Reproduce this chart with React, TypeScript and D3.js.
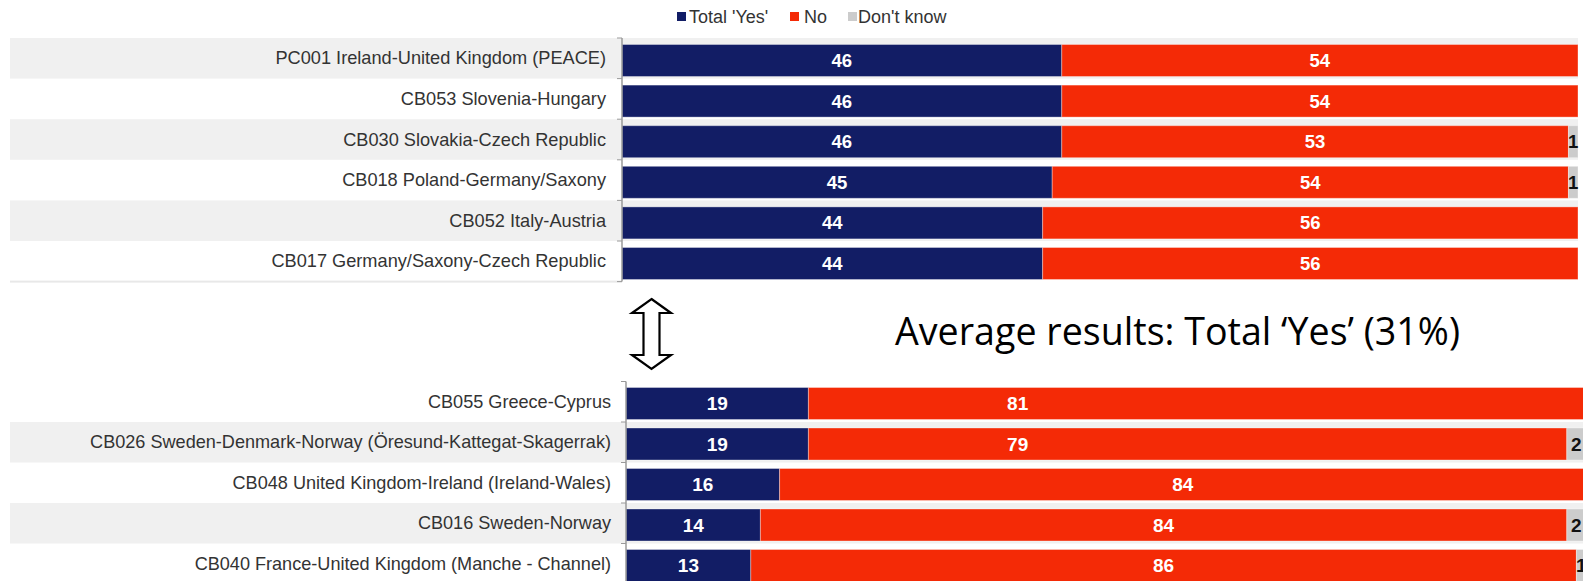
import React from "react";
import * as d3 from "d3";

// upper panel: programmes with the highest share of "Total 'Yes'"
const topRegions = [
  "PC001 Ireland-United Kingdom (PEACE)",
  "CB053 Slovenia-Hungary",
  "CB030 Slovakia-Czech Republic",
  "CB018 Poland-Germany/Saxony",
  "CB052 Italy-Austria",
  "CB017 Germany/Saxony-Czech Republic",
];
const topYes = [46, 46, 46, 45, 44, 44];
const topNo = [54, 54, 53, 54, 56, 56];
const topDontKnow = [0, 0, 1, 1, 0, 0];

// lower panel: programmes with the lowest share
const bottomRegions = [
  "CB055 Greece-Cyprus",
  "CB026 Sweden-Denmark-Norway (Öresund-Kattegat-Skagerrak)",
  "CB048 United Kingdom-Ireland (Ireland-Wales)",
  "CB016 Sweden-Norway",
  "CB040 France-United Kingdom (Manche - Channel)",
];
const bottomYes = [19, 19, 16, 14, 13];
const bottomNo = [81, 79, 84, 84, 86];
const bottomDontKnow = [0, 2, 0, 2, 1];
// in the source the "No" figure of the first two rows is not centred (percent along the bar)
const bottomNoLabelAt = [40.8, 40.8, null, null, null];

const legendLabels = ["Total 'Yes'", "No", "Don't know"];
const colors = ["#121d65", "#f42a06", "#cccccc"];
const averageNote = "Average results: Total \u2018Yes\u2019 (31%)";

const font = "'Liberation Sans', Arial, sans-serif";

type PanelProps = {
  regions: string[];
  yes: number[];
  no: number[];
  dk: number[];
  noLabelAt?: (number | null)[];
  x0: number;
  x100: number;
  top: number;
  step: number;
  barOffset: number;
  shadeOdd: boolean;
  bgRight: number;
  labelRight: number;
  labelSize: number;
  valueSize: number;
  bottomLine?: boolean;
};

const Panel = (p: PanelProps) => {
  const x = d3.scaleLinear().domain([0, 100]).range([p.x0, p.x100]);
  const y = d3
    .scaleBand()
    .domain(p.regions)
    .range([p.top, p.top + p.step * p.regions.length]);
  const barH = 32;

  return (
    <g>
      {p.regions.map((r, i) => {
        const shaded = p.shadeOdd ? i % 2 === 0 : i % 2 === 1;
        return shaded ? (
          <rect key={"bg" + i} x={10} y={y(r)} width={p.bgRight - 10} height={y.bandwidth()} fill="#f0f0f0" />
        ) : null;
      })}
      {p.bottomLine && (
        <rect x={10} y={p.top + p.step * p.regions.length - 1} width={p.x0 - 10} height={2} fill="#e8e8e8" />
      )}
      {p.regions.map((r, i) => {
        const by = (y(r) as number) + p.barOffset;
        const segs = [
          { v: p.yes[i], start: 0, c: colors[0], t: "#fff" },
          { v: p.no[i], start: p.yes[i], c: colors[1], t: "#fff" },
          { v: p.dk[i], start: p.yes[i] + p.no[i], c: colors[2], t: "#111" },
        ];
        return (
          <g key={r}>
            <text
              x={p.labelRight}
              y={(y(r) as number) + y.bandwidth() / 2}
              textAnchor="end"
              dominantBaseline="central"
              fontSize={p.labelSize}
              fill="#333"
              fontFamily={font}
            >
              {r}
            </text>
            {segs.map((s, k) =>
              s.v > 0 ? (
                <rect
                  key={k}
                  x={x(s.start)}
                  y={by}
                  width={x(s.start + s.v) - x(s.start)}
                  height={barH}
                  fill={s.c}
                  stroke="#fff"
                  strokeOpacity={0.35}
                  strokeWidth={1}
                />
              ) : null
            )}
            {segs.map((s, k) => {
              if (s.v <= 0) return null;
              let cx = x(s.start + s.v / 2);
              if (k === 1 && p.noLabelAt && p.noLabelAt[i] != null) cx = x(p.noLabelAt[i] as number);
              return (
                <text
                  key={"t" + k}
                  x={cx}
                  y={by + barH / 2}
                  textAnchor="middle"
                  dominantBaseline="central"
                  fontSize={p.valueSize}
                  fontWeight="bold"
                  fill={s.t}
                  fontFamily={font}
                >
                  {s.v}
                </text>
              );
            })}
          </g>
        );
      })}
      {/* category axis */}
      <line x1={p.x0} x2={p.x0} y1={p.top} y2={p.top + p.step * p.regions.length} stroke="#9a9a9a" strokeWidth={1.5} />
      {d3.range(p.regions.length + 1).map((i) => (
        <line
          key={"tk" + i}
          x1={p.x0 - 5}
          x2={p.x0}
          y1={p.top + i * p.step}
          y2={p.top + i * p.step}
          stroke="#9a9a9a"
          strokeWidth={1}
        />
      ))}
    </g>
  );
};

const Legend = () => {
  const items = [
    { x: 677, tx: 689 },
    { x: 790, tx: 804 },
    { x: 848, tx: 858 },
  ];
  return (
    <g fontFamily={font} fontSize={18} fill="#333">
      {legendLabels.map((l, i) => (
        <g key={l}>
          <rect x={items[i].x} y={12} width={9} height={9} fill={colors[i]} />
          <text x={items[i].tx} y={23}>
            {l}
          </text>
        </g>
      ))}
    </g>
  );
};

const Arrow = () => {
  const cx = 651.5;
  const path = [
    [cx, 299],
    [cx + 19.5, 313],
    [cx + 8, 313],
    [cx + 8, 355],
    [cx + 19.5, 355],
    [cx, 369],
    [cx - 19.5, 355],
    [cx - 8, 355],
    [cx - 8, 313],
    [cx - 19.5, 313],
  ];
  return <path d={d3.line()(path as [number, number][]) + "Z"} fill="#fff" stroke="#000" strokeWidth={2.2} strokeLinejoin="miter" />;
};

export default function App() {
  return (
    <svg width={1583} height={581} style={{ position: "absolute", left: 0, top: 0, background: "#fff" }}>
      <rect width={1583} height={581} fill="#fff" />
      <Legend />
      <Panel
        regions={topRegions}
        yes={topYes}
        no={topNo}
        dk={topDontKnow}
        x0={622}
        x100={1578}
        top={38}
        step={40.6}
        barOffset={6.5}
        shadeOdd={true}
        bgRight={1578}
        labelRight={606}
        labelSize={18.2}
        valueSize={18.5}
        bottomLine={true}
      />
      <Arrow />
      <text
        x={895}
        y={345}
        fontFamily="'Open Sans', 'Noto Sans', sans-serif"
        fontSize={39}
        fill="#000"
        textLength={565}
        lengthAdjust="spacingAndGlyphs"
      >
        {averageNote}
      </text>
      <Panel
        regions={bottomRegions}
        yes={bottomYes}
        no={bottomNo}
        dk={bottomDontKnow}
        noLabelAt={bottomNoLabelAt}
        x0={626}
        x100={1586}
        top={381.5}
        step={40.5}
        barOffset={6}
        shadeOdd={false}
        bgRight={1583}
        labelRight={611}
        labelSize={18.1}
        valueSize={19}
      />
    </svg>
  );
}
